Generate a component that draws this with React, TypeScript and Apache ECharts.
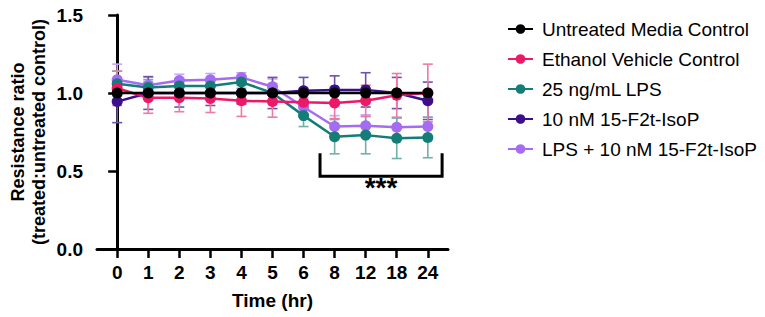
import React, { useEffect, useRef } from "react";
import * as echarts from "echarts";

const timeLabels = ["0", "1", "2", "3", "4", "5", "6", "8", "12", "18", "24"];

const seriesNames = [
  "Untreated Media Control",
  "Ethanol Vehicle Control",
  "25 ng/mL LPS",
  "10 nM 15-F2t-IsoP",
  "LPS + 10 nM 15-F2t-IsoP",
];

const untreatedMean = [1.0, 1.0, 1.0, 1.0, 1.0, 1.0, 1.0, 1.0, 1.0, 1.0, 1.0];
const untreatedSd = [0, 0, 0, 0, 0, 0, 0, 0, 0, 0, 0];

const ethanolMean = [1.03, 0.97, 0.97, 0.965, 0.95, 0.945, 0.94, 0.936, 0.95, 0.985, 1.0];
const ethanolSd = [0.11, 0.1, 0.09, 0.09, 0.1, 0.1, 0.09, 0.1, 0.1, 0.14, 0.185];

const lpsMean = [1.06, 1.035, 1.045, 1.045, 1.07, 1.0, 0.855, 0.72, 0.73, 0.71, 0.715];
const lpsSd = [0.08, 0.05, 0.04, 0.04, 0.04, 0.06, 0.07, 0.11, 0.12, 0.13, 0.13];

const isopMean = [0.945, 1.0, 1.0, 1.0, 1.0, 1.0, 1.015, 1.02, 1.02, 1.0, 0.95];
const isopSd = [0.135, 0.105, 0.09, 0.08, 0.07, 0.1, 0.085, 0.09, 0.11, 0.1, 0.12];

const lpsIsopMean = [1.085, 1.05, 1.08, 1.085, 1.1, 1.04, 0.91, 0.785, 0.79, 0.78, 0.785];
const lpsIsopSd = [0.1, 0.05, 0.04, 0.04, 0.03, 0.05, 0.06, 0.07, 0.07, 0.06, 0.06];

const seriesColors = ["#000000", "#EC1868", "#137D78", "#3B0E8C", "#A56CF3"];
const errorColors = ["#555555", "#EE7AA6", "#72AFAB", "#6E52A8", "#C9A6F7"];

const bracketX = [6.53, 10.46];
const bracketY = [0.613, 0.466];
const bracketLabel = "***";
const bracketLabelY = 0.395;

const FONT = "'Liberation Sans', Arial, sans-serif";

export default function App() {
  const ref = useRef<HTMLDivElement>(null);

  useEffect(() => {
    if (!ref.current) return;
    const chart = echarts.init(ref.current, null, { renderer: "svg" });

    const means = [untreatedMean, ethanolMean, lpsMean, isopMean, lpsIsopMean];
    const sds = [untreatedSd, ethanolSd, lpsSd, isopSd, lpsIsopSd];
    const drawOrder = [4, 2, 3, 1, 0];
    const idx = timeLabels.map((_, i) => i);

    const errorSeries = drawOrder.map((s) => ({
      type: "custom",
      name: "err-" + seriesNames[s],
      z: 1,
      silent: true,
      data: idx.map((i) => [i, means[s][i], sds[s][i]]),
      renderItem: (params: any, api: any) => {
        const x = api.value(0);
        const y = api.value(1);
        const sd = api.value(2);
        if (!sd) return { type: "group", children: [] };
        const top = api.coord([x, y + sd]);
        const bot = api.coord([x, y - sd]);
        const hw = 5;
        const style = { stroke: errorColors[s], lineWidth: 1.6, fill: "none" };
        return {
          type: "group",
          children: [
            { type: "line", shape: { x1: top[0], y1: top[1], x2: bot[0], y2: bot[1] }, style },
            { type: "line", shape: { x1: top[0] - hw, y1: top[1], x2: top[0] + hw, y2: top[1] }, style },
            { type: "line", shape: { x1: bot[0] - hw, y1: bot[1], x2: bot[0] + hw, y2: bot[1] }, style },
          ],
        };
      },
    }));

    const lineSeries = drawOrder.map((s) => ({
      type: "line",
      name: seriesNames[s],
      z: 3,
      data: idx.map((i) => [i, means[s][i]]),
      symbol: "circle",
      symbolSize: 11,
      showSymbol: true,
      lineStyle: { color: seriesColors[s], width: 2.5 },
      itemStyle: { color: seriesColors[s] },
      emphasis: { disabled: true },
    }));

    const bracketSeries = {
      type: "custom",
      name: "bracket",
      z: 4,
      silent: true,
      data: [[bracketX[0], bracketY[0], bracketX[1], bracketY[1]]],
      renderItem: (params: any, api: any) => {
        const tl = api.coord([api.value(0), api.value(1)]);
        const bl = api.coord([api.value(0), api.value(3)]);
        const br = api.coord([api.value(2), api.value(3)]);
        const tr = api.coord([api.value(2), api.value(1)]);
        const mid = api.coord([(api.value(0) + api.value(2)) / 2, bracketLabelY]);
        return {
          type: "group",
          children: [
            {
              type: "polyline",
              shape: { points: [tl, bl, br, tr] },
              style: { stroke: "#000", lineWidth: 3, fill: "none" },
            },
            {
              type: "text",
              x: mid[0],
              y: mid[1],
              style: {
                text: bracketLabel,
                fill: "#000",
                font: "bold 28px " + FONT,
                align: "center",
                verticalAlign: "middle",
              },
            },
          ],
        };
      },
    };

    chart.setOption({
      animation: false,
      textStyle: { fontFamily: FONT },
      grid: { left: 97, right: 317, top: 15, bottom: 68, containLabel: false },
      legend: {
        data: seriesNames,
        orient: "vertical",
        left: 502,
        top: 14,
        itemWidth: 25,
        itemHeight: 12,
        itemGap: 10,
        selectedMode: false,
        textStyle: {
          fontSize: 19,
          color: "#000",
          fontFamily: FONT,
          lineHeight: 20,
          padding: [0, 0, 0, 4],
        },
      },
      xAxis: {
        type: "value",
        min: -0.65,
        max: 10.65,
        name: "Time (hr)",
        nameLocation: "middle",
        nameGap: 42,
        nameTextStyle: { fontSize: 19, fontWeight: "bold", color: "#000", fontFamily: FONT },
        axisLine: { show: true, onZero: false, lineStyle: { color: "#000", width: 3 } },
        axisTick: {
          show: true,
          customValues: idx,
          length: 9,
          lineStyle: { color: "#000", width: 2.5 },
        },
        axisLabel: {
          customValues: idx,
          formatter: (v: number) => timeLabels[Math.round(v)],
          fontSize: 19,
          fontWeight: "bold",
          color: "#000",
          margin: 14,
          fontFamily: FONT,
        },
        splitLine: { show: false },
      },
      yAxis: {
        type: "value",
        min: 0,
        max: 1.5,
        interval: 0.5,
        name: "Resistance ratio\n(treated:untreated control)",
        nameLocation: "middle",
        nameRotate: 90,
        nameGap: 48,
        nameTextStyle: {
          fontSize: 18,
          fontWeight: "bold",
          color: "#000",
          fontFamily: FONT,
          lineHeight: 21,
        },
        axisLine: { show: true, lineStyle: { color: "#000", width: 3 } },
        axisTick: { show: true, length: 9, lineStyle: { color: "#000", width: 2.5 } },
        axisLabel: {
          formatter: (v: number) => v.toFixed(1),
          fontSize: 19,
          fontWeight: "bold",
          color: "#000",
          margin: 14,
          fontFamily: FONT,
        },
        splitLine: { show: false },
      },
      series: [...errorSeries, ...lineSeries, bracketSeries],
    });

    return () => chart.dispose();
  }, []);

  return (
    <div
      ref={ref}
      style={{ position: "fixed", left: 0, top: 0, width: 765, height: 317, background: "#fff" }}
    />
  );
}
